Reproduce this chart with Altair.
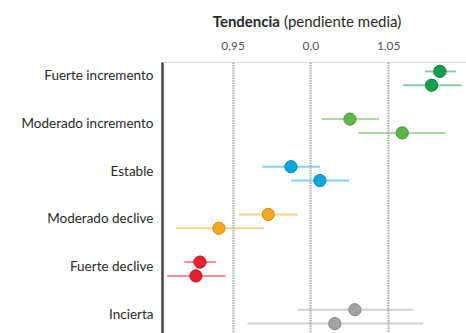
import altair as alt
import pandas as pd

categories = ["Fuerte incremento", "Moderado incremento", "Estable",
              "Moderado declive", "Fuerte declive", "Incierta"]
periods = ["1", "2"]

# mean slope and interval (lo, hi) for period 1 and 2 of each category
mean_p1 = [1.0832, 1.0254, 0.9875, 0.9729, 0.9290, 1.0286]
lo_p1 = [1.0736, 1.0072, 0.9690, 0.9542, 0.9189, 0.9918]
hi_p1 = [1.0935, 1.0442, 1.0061, 0.9918, 0.9393, 1.0661]
mean_p2 = [1.0779, 1.0590, 1.0061, 0.9412, 0.9264, 1.0157]
lo_p2 = [1.0596, 1.0307, 0.9875, 0.9134, 0.9080, 0.9596]
hi_p2 = [1.0972, 1.0871, 1.0249, 0.9701, 0.9455, 1.0725]

tick_values = [0.95, 1.00, 1.05]
tick_labels = ["0,95", "0,0", "1,05"]

point_colors = ["#14a04a", "#5eb646", "#0aa6e0", "#f6a81e", "#e4202e", "#a3a3a3"]
point_strokes = ["#0f7f3a", "#4a9636", "#0887b8", "#d08a10", "#b81822", "#888888"]

rows = []
for i, c in enumerate(categories):
    rows.append(dict(cat=c, per=periods[0], m=mean_p1[i], lo=lo_p1[i], hi=hi_p1[i]))
    rows.append(dict(cat=c, per=periods[1], m=mean_p2[i], lo=lo_p2[i], hi=hi_p2[i]))
df = pd.DataFrame(rows)

label_expr = "datum.value > 0.99 && datum.value < 1.01 ? '" + tick_labels[1] + "' : replace(format(datum.value, '.2f'), '.', ',')"

xscale = alt.Scale(domain=[0.9046, 1.1], nice=False, zero=False)
yscale = alt.Scale(domain=categories, paddingInner=0.42, paddingOuter=0.052)
color = alt.Color("cat:N", scale=alt.Scale(domain=categories, range=point_colors), legend=None)

x_axis = alt.Axis(orient="top", values=tick_values, labelExpr=label_expr, title=None,
                  ticks=False, domain=False, grid=True, gridColor="#a8a8a8",
                  gridWidth=2, gridDash=[1.5, 1], labelFont="Lato", labelFontSize=12,
                  labelColor="#555555", labelPadding=10, zindex=1)
y_axis = alt.Axis(title=None, ticks=False, domain=True, domainColor="#444444",
                  domainWidth=2.5, labelFont="Lato", labelFontSize=13.5,
                  labelColor="#2a2a2a", labelPadding=9, labelOffset=-2, grid=False)

base = alt.Chart(df)

whiskers = base.mark_rule(strokeWidth=2, opacity=0.5).encode(
    x=alt.X("lo:Q", scale=xscale, axis=x_axis),
    x2="hi:Q",
    y=alt.Y("cat:N", scale=yscale, axis=y_axis, sort=categories),
    yOffset=alt.YOffset("per:N"),
    color=color,
)

points = base.mark_point(filled=True, size=150, strokeWidth=1, opacity=1).encode(
    x=alt.X("m:Q", scale=xscale),
    y=alt.Y("cat:N", scale=yscale, sort=categories),
    yOffset=alt.YOffset("per:N"),
    color=color,
    stroke=alt.Stroke("cat:N", scale=alt.Scale(domain=categories, range=point_strokes), legend=None),
)

t1 = alt.Chart(pd.DataFrame({"t": ["Tendencia"]})).mark_text(
    font="Lato", fontSize=15, fontWeight="bold", align="right", baseline="middle", color="#2a2a2a"
).encode(text="t:N", x=alt.value(118), y=alt.value(-40))
t2 = alt.Chart(pd.DataFrame({"t": ["(pendiente media)"]})).mark_text(
    font="Lato", fontSize=15, align="left", baseline="middle", color="#2a2a2a"
).encode(text="t:N", x=alt.value(122), y=alt.value(-40))

chart = alt.layer(whiskers, points, t1, t2).properties(
    width=304, height=271,
    autosize=alt.AutoSizeParams(type="none"),
    padding={"left": 162, "top": 62, "right": 0, "bottom": 0},
).configure_view(stroke=None).configure(background="white")

chart.save("out.html", embed_options={"renderer": "svg", "actions": False})
